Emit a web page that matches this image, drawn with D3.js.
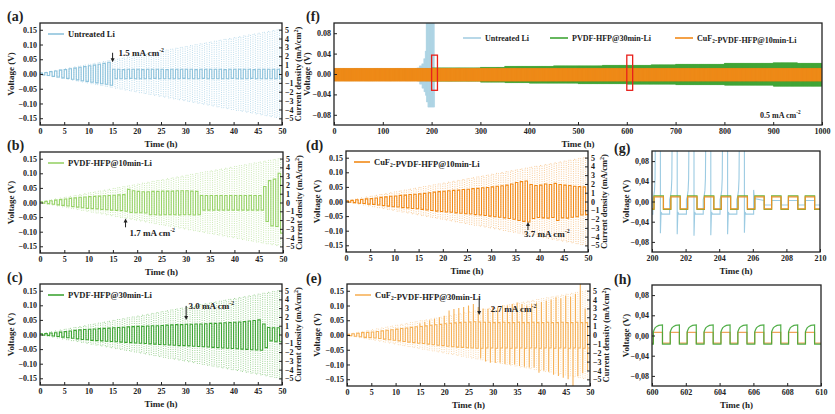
<!DOCTYPE html>
<html><head><meta charset="utf-8">
<script src="https://cdn.jsdelivr.net/npm/d3@7"></script>
<style>
body{margin:0;background:#fff}
svg{display:block}
text{font-family:"Liberation Serif","Times New Roman",serif;font-weight:bold;fill:#222}
</style></head>
<body><svg id="chart" width="835" height="414"></svg>
<script>
// ---------------- DATA ----------------
// current density per 1 h cycle (mA/cm2), panels (a)-(e)
const currentDensity = [0.1,0.2,0.3,0.4,0.5,0.6,0.7,0.8,0.9,1.0,1.1,1.2,1.3,1.4,1.5,1.6,1.7,1.8,1.9,2.0,
  2.1,2.2,2.3,2.4,2.5,2.6,2.7,2.8,2.9,3.0,3.1,3.2,3.3,3.4,3.5,3.6,3.7,3.8,3.9,4.0,
  4.1,4.2,4.3,4.4,4.5,4.6,4.7,4.8,4.9,5.0];
const timeTicks50 = [0,5,10,15,20,25,30,35,40,45,50];
const voltTicks = [-0.15,-0.10,-0.05,0,0.05,0.10,0.15];
const currTicks = [-5,-4,-3,-2,-1,0,1,2,3,4,5];

// (a) Untreated Li : plateau voltage per cycle
const aHi = [0.003,0.005,0.008,0.010,0.013,0.015,0.018,0.020,0.023,0.025,0.028,0.030,0.033,0.036,0.040,
  0.016,0.016,0.015,0.016,0.016, 0.016,0.015,0.016,0.016,0.016, 0.016,0.015,0.016,0.016,0.016,
  0.016,0.016,0.015,0.016,0.016, 0.016,0.016,0.016,0.015,0.016, 0.016,0.016,0.016,0.016,0.015,
  0.016,0.016,0.016,0.016,0.016];
const aLo = [-0.003,-0.005,-0.008,-0.010,-0.013,-0.015,-0.018,-0.020,-0.023,-0.025,-0.028,-0.030,-0.033,-0.035,-0.038,
  -0.016,-0.016,-0.016,-0.015,-0.016, -0.016,-0.016,-0.016,-0.015,-0.016, -0.016,-0.016,-0.016,-0.016,-0.015,
  -0.016,-0.016,-0.016,-0.015,-0.016, -0.016,-0.016,-0.016,-0.016,-0.015, -0.016,-0.016,-0.016,-0.015,-0.016,
  -0.016,-0.016,-0.016,-0.016,-0.016];
// (b) PVDF-HFP@10min-Li
const bHi = [0.002,0.004,0.006,0.008,0.010,0.012,0.014,0.016,0.018,0.019,0.020,0.021,0.022,0.023,0.024,0.025,0.026,0.027,
  0.045,0.040,0.038,0.037,0.037,0.038,0.038,0.039,0.039,0.039,0.040,0.040,0.040,0.039,0.038,
  0.024,0.024,0.024,0.024,0.024,0.024,0.024,0.024,0.024,0.024,0.024,0.024,0.024,
  0.055,0.075,0.080,0.100];
const bLo = [-0.002,-0.004,-0.006,-0.008,-0.010,-0.012,-0.014,-0.016,-0.018,-0.020,-0.021,-0.022,-0.024,-0.025,-0.026,-0.027,-0.028,-0.030,
  -0.034,-0.035,-0.035,-0.036,
  -0.042,-0.042,-0.043,-0.042,-0.042,-0.042,-0.043,-0.042,-0.042,-0.043,-0.042,
  -0.026,-0.026,-0.026,-0.026,-0.026,-0.026,-0.026,-0.026,-0.026,-0.026,-0.026,-0.026,-0.026,
  -0.065,-0.080,-0.082,-0.105];
// (c) PVDF-HFP@30min-Li
const cHi = [0.002,0.003,0.005,0.006,0.008,0.010,0.012,0.014,0.016,0.017,0.018,0.019,0.020,0.021,0.022,0.023,0.024,0.025,0.026,0.027,
  0.028,0.028,0.029,0.030,0.030,0.031,0.032,0.033,0.034,0.034,0.035,0.035,0.036,0.036,0.037,0.038,0.038,0.039,0.040,0.041,
  0.042,0.043,0.044,0.046,0.048,0.050,0.036,0.024,0.023,0.023];
const cLo = [-0.002,-0.003,-0.005,-0.007,-0.009,-0.011,-0.013,-0.015,-0.017,-0.018,-0.020,-0.021,-0.022,-0.023,-0.024,-0.025,-0.026,-0.027,-0.028,-0.029,
  -0.030,-0.031,-0.032,-0.033,-0.034,-0.035,-0.036,-0.037,-0.038,-0.038,-0.039,-0.040,-0.041,-0.042,-0.043,-0.044,-0.045,-0.046,-0.047,-0.048,
  -0.049,-0.050,-0.051,-0.052,-0.053,-0.054,-0.045,-0.022,-0.025,-0.025];
// (d) CuF2-PVDF-HFP@10min-Li
const dHi = [0.002,0.004,0.006,0.007,0.009,0.010,0.012,0.014,0.016,0.018,0.019,0.021,0.022,0.024,0.025,0.026,0.028,0.030,0.032,0.034,
  0.035,0.037,0.038,0.039,0.041,0.042,0.044,0.045,0.047,0.048,0.050,0.052,0.054,0.056,0.060,0.065,0.068,0.070,0.058,0.055,
  0.056,0.060,0.058,0.062,0.058,0.056,0.055,0.052,0.051,0.050];
const dLo = [-0.002,-0.004,-0.006,-0.007,-0.009,-0.010,-0.012,-0.014,-0.016,-0.018,-0.019,-0.021,-0.022,-0.024,-0.025,-0.027,-0.029,-0.031,-0.033,-0.034,
  -0.036,-0.037,-0.039,-0.040,-0.042,-0.043,-0.045,-0.046,-0.048,-0.050,-0.052,-0.054,-0.056,-0.058,-0.061,-0.065,-0.068,-0.070,-0.058,-0.055,
  -0.056,-0.057,-0.055,-0.065,-0.056,-0.057,-0.054,-0.052,-0.046,-0.045];
// (e) CuF2-PVDF-HFP@30min-Li : plateaus and spike tips
const eHi = [0.002,0.004,0.006,0.008,0.009,0.010,0.012,0.014,0.016,0.018,0.020,0.022,0.024,0.026,0.028,0.029,0.031,0.033,0.035,0.036,
  0.038,0.040,0.041,0.042,0.043,0.044,0.045,0.044,0.043,0.043,0.042,0.042,0.043,0.042,0.042,0.043,0.042,0.042,0.043,0.042,
  0.042,0.043,0.042,0.042,0.043,0.042,0.042,0.043,0.042,0.042];
const eHiSpike = [0.002,0.004,0.006,0.008,0.009,0.010,0.012,0.014,0.016,0.018,0.020,0.022,0.024,0.026,0.028,0.040,0.045,0.050,0.055,0.060,
  0.065,0.083,0.088,0.092,0.095,0.100,0.105,0.095,0.090,0.089,0.095,0.094,0.100,0.100,0.105,0.110,0.105,0.100,0.105,0.110,
  0.112,0.117,0.120,0.128,0.125,0.133,0.130,0.140,0.180,0.090];
const eLo = [-0.002,-0.004,-0.006,-0.008,-0.009,-0.010,-0.012,-0.014,-0.016,-0.018,-0.020,-0.022,-0.024,-0.026,-0.028,-0.029,-0.031,-0.033,-0.035,-0.036,
  -0.038,-0.040,-0.041,-0.042,-0.043,-0.044,-0.045,-0.045,-0.044,-0.044,-0.045,-0.044,-0.044,-0.045,-0.044,-0.044,-0.045,-0.044,-0.044,-0.045,
  -0.044,-0.044,-0.045,-0.044,-0.044,-0.045,-0.044,-0.044,-0.045,-0.044];
const eLoSpike = [-0.002,-0.004,-0.006,-0.008,-0.009,-0.010,-0.012,-0.014,-0.016,-0.018,-0.020,-0.022,-0.024,-0.026,-0.028,-0.029,-0.031,-0.033,-0.035,-0.036,
  -0.038,-0.040,-0.041,-0.042,-0.043,-0.044,-0.045,-0.080,-0.090,-0.094,-0.095,-0.094,-0.098,-0.100,-0.100,-0.105,-0.108,-0.110,-0.110,-0.128,
  -0.120,-0.125,-0.135,-0.139,-0.145,-0.150,-0.175,-0.140,-0.130,-0.120];

// (f) long-term cycling at 0.5 mA cm-2, plateau values per 50 h block
const fTimeTicks = [0,100,200,300,400,500,600,700,800,900,1000];
const fVoltTicks = [-0.08,-0.04,0,0.04,0.08];
const fBlockHours = 50;
const fOrangeHi = [0.011,0.011,0.011,0.011,0.011,0.011,0.011,0.011,0.011,0.011,0.011,0.011,0.011,0.011,0.011,0.011,0.011,0.011,0.011,0.011];
const fOrangeLo = [-0.014,-0.014,-0.014,-0.014,-0.014,-0.014,-0.014,-0.014,-0.014,-0.014,-0.014,-0.014,-0.014,-0.014,-0.014,-0.014,-0.014,-0.014,-0.014,-0.014];
const fGreenHi = [0.010,0.010,0.010,0.010,0.012,0.012,0.013,0.015,0.015,0.016,0.016,0.017,0.017,0.018,0.019,0.019,0.021,0.021,0.022,0.021];
const fGreenLo = [-0.013,-0.013,-0.013,-0.013,-0.014,-0.014,-0.016,-0.017,-0.018,-0.018,-0.019,-0.019,-0.020,-0.020,-0.021,-0.021,-0.022,-0.022,-0.024,-0.024];
const fBlueStart = [0,170,175,180,184,187,189,192,206];
const fBlueHi = [0.008,0.012,0.016,0.020,0.030,0.045,0.130,0.130,0.003];
const fBlueLo = [-0.010,-0.014,-0.020,-0.028,-0.035,-0.042,-0.055,-0.065,-0.007];
const fBlueEnd = 210;
const fBoxes = [[200,212],[600,612]];
const fBoxV = [-0.032,0.037];

// (g) 200-210 h detail
const gTimeTicks = [200,202,204,206,208,210];
const gPhase = [0.12,0.68];           // rise / fall offset within each hour
const gOrange = [0.009,-0.0145];
const gGreen = [0.011,-0.0155];
const gBlueFailRise = 0.05, gBlueFailFall = 0.5;
const gBlueFailHiShape = [[0,0.004],[0.05,0.010],[0.10,0.022],[0.13,0.045],[0.15,0.130],[0.45,0.130]];
const gBlueLoPlateau = -0.025;
const gBlueLoSpike = [-0.060,-0.063,-0.065,-0.068,-0.067,-0.065,-0.062];   // cycles 199..205
const gBluePost = [0.002,-0.007], gBluePostSpike = 0.023;

// (h) 600-610 h detail
const hTimeTicks = [600,602,604,606,608,610];
const hPhase = [0.08,0.62];
const hOrange = [0.006,-0.015];
const hGreenHiShape = [[0,0.007],[0.04,0.011],[0.10,0.015],[0.20,0.018],[0.32,0.020],[0.54,0.021]];
const hGreenLo = -0.017;

// ---------------- DRAW ----------------
const svg = d3.select('#chart');
const defs = svg.append('defs');
let clipN = 0;

function styleAxis(a) {
  a.select('.domain').remove();
  a.selectAll('line').attr('stroke', '#222');
  a.selectAll('text').attr('font-size', 8).style('font-weight', 'bold');
}
function panel(L, xd, yd, xt, yt, yfmt, xfmt) {
  const x = d3.scaleLinear().domain(xd).range([L.x0, L.x1]);
  const y = d3.scaleLinear().domain(yd).range([L.y1, L.y0]);
  const cid = 'clip' + (clipN++);
  defs.append('clipPath').attr('id', cid).append('rect')
    .attr('x', L.x0).attr('y', L.y0).attr('width', L.x1 - L.x0).attr('height', L.y1 - L.y0);
  const plot = svg.append('g').attr('clip-path', `url(#${cid})`);
  const ax = svg.append('g');
  const bx = ax.append('g').attr('transform', `translate(0,${L.y1})`)
    .call(d3.axisBottom(x).tickValues(xt).tickSizeInner(-3).tickSizeOuter(0).tickPadding(3).tickFormat(xfmt || d3.format('d')));
  const ly = ax.append('g').attr('transform', `translate(${L.x0},0)`)
    .call(d3.axisLeft(y).tickValues(yt).tickSizeInner(-3).tickSizeOuter(0).tickPadding(3).tickFormat(yfmt));
  styleAxis(bx); styleAxis(ly);
  return {x, y, plot, ax, L};
}
function frame(P) {
  const L = P.L;
  svg.append('rect').attr('x', L.x0).attr('y', L.y0).attr('width', L.x1 - L.x0).attr('height', L.y1 - L.y0)
    .attr('fill', 'none').attr('stroke', '#222').attr('stroke-width', 1.3);
}
function titles(P, yTitleX) {
  const L = P.L;
  svg.append('text').attr('x', (L.x0 + L.x1) / 2).attr('y', L.y1 + 22).attr('text-anchor', 'middle').attr('font-size', 9).text('Time (h)');
  svg.append('text').attr('transform', `translate(${yTitleX},${(L.y0 + L.y1) / 2}) rotate(-90)`).attr('text-anchor', 'middle').attr('font-size', 9).text('Voltage (V)');
}
function rightAxis(P) {
  const L = P.L;
  const yr = d3.scaleLinear().domain([-5.75, 5.75]).range([L.y1, L.y0]);
  const a = svg.append('g').attr('transform', `translate(${L.x1},0)`)
    .call(d3.axisRight(yr).tickValues(currTicks).tickSizeInner(-3).tickSizeOuter(0).tickPadding(3).tickFormat(d3.format('d')));
  styleAxis(a);
  const t = svg.append('text').attr('transform', `translate(${L.x1 + 19},${(L.y0 + L.y1) / 2}) rotate(-90)`)
    .attr('text-anchor', 'middle').attr('font-size', 8.5);
  t.append('tspan').text('Current density (mA/cm');
  t.append('tspan').attr('font-size', 6).attr('dy', -3).text('2');
  t.append('tspan').attr('dy', 3).text(')');
  return yr;
}
function labelText(x, y, parts, size) {
  const t = svg.append('text').attr('x', x).attr('y', y).attr('font-size', size);
  parts.forEach(p => {
    if (typeof p === 'string') t.append('tspan').text(p);
    else if (p.sub) { t.append('tspan').attr('font-size', size * 0.65).attr('dy', 2).text(p.sub); t.append('tspan').attr('dy', -2).text(''); }
    else if (p.sup) { t.append('tspan').attr('font-size', size * 0.65).attr('dy', -4).text(p.sup); t.append('tspan').attr('dy', 4).text(''); }
  });
  return t;
}
const line = (P) => d3.line().x(d => P.x(d[0])).y(d => P.y(d[1]));

function wave(hi, lo, hiS, loS) {
  const pts = [[0, 0]];
  hi.forEach((h, k) => {
    const sh = hiS ? hiS[k] : h, sl = loS ? loS[k] : lo[k];
    pts.push([k, sh], [k + 0.02, h], [k + 0.5, h], [k + 0.5, sl], [k + 0.52, lo[k]], [k + 1, lo[k]]);
  });
  return pts;
}
function currentWave() {
  const pts = [[0, 0]];
  currentDensity.forEach((i, k) => pts.push([k, i], [k + 0.5, i], [k + 0.5, -i], [k + 1, -i]));
  pts.push([currentDensity.length, 0]);
  return pts;
}
function arrow(P, xv, y1, y2) {
  const X = P.x(xv), Y1 = P.y(y1), Y2 = P.y(y2);
  const dir = Y2 > Y1 ? 1 : -1;
  svg.append('line').attr('x1', X).attr('x2', X).attr('y1', Y1).attr('y2', Y2 - dir * 3).attr('stroke', '#222').attr('stroke-width', 1);
  svg.append('path').attr('d', `M${X - 2},${Y2 - dir * 4}L${X + 2},${Y2 - dir * 4}L${X},${Y2}Z`).attr('fill', '#222');
}

const rateLayouts = [
  {key: 'a', L: {x0: 40, x1: 282, y0: 23, y1: 125}, hi: aHi, lo: aLo, col: '#8ec3dc', dot: '#9fcde4', name: ['Untreated Li'],
   lab: [7, 21], ytx: 14, ann: {ax: 15, a1: 0.072, a2: 0.040, tx: 16.2, ty: 0.060, t: '1.5'}},
  {key: 'b', L: {x0: 40, x1: 283, y0: 152, y1: 253}, hi: bHi, lo: bLo, col: '#99d36a', dot: '#b3df92', name: ['PVDF-HFP@10min-Li'],
   lab: [7, 150], ytx: 14, ann: {ax: 17.6, a1: -0.085, a2: -0.055, tx: 18.4, ty: -0.115, t: '1.7'}},
  {key: 'c', L: {x0: 40, x1: 282, y0: 284, y1: 385}, hi: cHi, lo: cLo, col: '#3fa535', dot: '#74c069', name: ['PVDF-HFP@30min-Li'],
   lab: [7, 282], ytx: 14, ann: {ax: 30.2, a1: 0.098, a2: 0.050, tx: 30.7, ty: 0.086, t: '3.0'}},
  {key: 'd', L: {x0: 346, x1: 588, y0: 151, y1: 252}, hi: dHi, lo: dLo, col: '#f28a18', dot: '#f5b46b', name: ['CuF', {sub: '2'}, '-PVDF-HFP@10min-Li'],
   lab: [306, 150], ytx: 320, ann: {ax: 37.6, a1: -0.098, a2: -0.070, tx: 36.8, ty: -0.122, t: '3.7'}},
  {key: 'e', L: {x0: 347, x1: 590, y0: 284, y1: 386}, hi: eHi, lo: eLo, hiS: eHiSpike, loS: eLoSpike, col: '#f6b25a', dot: '#f8c88c', name: ['CuF', {sub: '2'}, '-PVDF-HFP@30min-Li'],
   lab: [306, 283], ytx: 320, ann: {ax: 27.2, a1: 0.124, a2: 0.068, tx: 29.6, ty: 0.078, t: '2.7'}}
];

rateLayouts.forEach(R => {
  const P = panel(R.L, [0, 50], [-0.173, 0.173], timeTicks50, voltTicks, d3.format('.2f'));
  const yr = d3.scaleLinear().domain([-5.75, 5.75]).range([R.L.y1, R.L.y0]);
  P.plot.append('path').attr('d', d3.line().x(d => P.x(d[0])).y(d => yr(d[1]))(currentWave()))
    .attr('fill', 'none').attr('stroke', R.dot).attr('stroke-width', 0.7).attr('stroke-dasharray', '1,1.2');
  P.plot.append('path').attr('d', line(P)(wave(R.hi, R.lo, R.hiS, R.loS)))
    .attr('fill', 'none').attr('stroke', R.col).attr('stroke-width', 1.1);
  frame(P);
  rightAxis(P);
  titles(P, R.ytx);
  const lx = R.L.x0 + 8, ly = R.L.y0 + 11;
  svg.append('line').attr('x1', lx).attr('x2', lx + 16).attr('y1', ly).attr('y2', ly).attr('stroke', R.col).attr('stroke-width', 1.6);
  labelText(lx + 20, ly + 3, R.name, 8.5);
  const A = R.ann;
  arrow(P, A.ax, A.a1, A.a2);
  labelText(P.x(A.tx), P.y(A.ty), [A.t + ' mA cm', {sup: '-2'}], 9);
  svg.append('text').attr('x', R.lab[0]).attr('y', R.lab[1]).attr('font-size', 14).text('(' + R.key + ')');
});

// ---------- (f) ----------
{
  const L = {x0: 334, x1: 822, y0: 23, y1: 125};
  const P = panel(L, [0, 1000], [-0.1, 0.1], fTimeTicks, fVoltTicks, d3.format('.2f'));
  const blockWave = (HI, LO) => {
    const pts = [];
    for (let k = 0; k < HI.length * fBlockHours; k++) {
      const b = Math.floor(k / fBlockHours);
      pts.push([k, HI[b]], [k + 0.5, HI[b]], [k + 0.5, LO[b]], [k + 1, LO[b]]);
    }
    return pts;
  };
  const blueWave = () => {
    const pts = [];
    for (let k = 0; k < fBlueEnd; k++) {
      let s = 0; fBlueStart.forEach((t, i) => { if (k >= t) s = i; });
      pts.push([k, fBlueHi[s]], [k + 0.5, fBlueHi[s]], [k + 0.5, fBlueLo[s]], [k + 1, fBlueLo[s]]);
    }
    return pts;
  };
  P.plot.append('path').attr('d', line(P)(blueWave())).attr('fill', 'none').attr('stroke', '#a6cfe3').attr('stroke-width', 0.6).attr('opacity', 0.75);
  P.plot.append('path').attr('d', line(P)(blockWave(fGreenHi, fGreenLo))).attr('fill', 'none').attr('stroke', '#3fa535').attr('stroke-width', 0.7);
  P.plot.append('path').attr('d', line(P)(blockWave(fOrangeHi, fOrangeLo))).attr('fill', 'none').attr('stroke', '#f28a18').attr('stroke-width', 0.7);
  fBoxes.forEach(b => {
    svg.append('rect').attr('x', P.x(b[0])).attr('y', P.y(fBoxV[1])).attr('width', P.x(b[1]) - P.x(b[0]))
      .attr('height', P.y(fBoxV[0]) - P.y(fBoxV[1])).attr('fill', 'none').attr('stroke', '#e8201c').attr('stroke-width', 1.3);
  });
  frame(P);
  titles(P, 310);
  const leg = [{c: '#a6cfe3', x: 463, n: ['Untreated Li']}, {c: '#3fa535', x: 550, n: ['PVDF-HFP@30min-Li']},
               {c: '#f28a18', x: 675, n: ['CuF', {sub: '2'}, '-PVDF-HFP@10min-Li']}];
  leg.forEach(l => {
    svg.append('line').attr('x1', l.x).attr('x2', l.x + 18).attr('y1', 38).attr('y2', 38).attr('stroke', l.c).attr('stroke-width', 1.6);
    labelText(l.x + 22, 41, l.n, 8);
  });
  labelText(760, 118, ['0.5 mA cm', {sup: '-2'}], 8);
  svg.append('text').attr('x', 306).attr('y', 21).attr('font-size', 14).text('(f)');
}

// ---------- (g) ----------
const commaFmt = d => d3.format('.2f')(d).replace('.', ',');
{
  const L = {x0: 652, x1: 820, y0: 151, y1: 252};
  const P = panel(L, [200, 210], [-0.1, 0.1], gTimeTicks, fVoltTicks, commaFmt);
  const sq = (hi, lo, ph, k0, k1) => {
    const pts = [];
    for (let k = k0; k <= k1; k++) pts.push([k + ph[0], lo], [k + ph[0], hi], [k + ph[1], hi], [k + ph[1], lo]);
    return pts;
  };
  const bp = [];
  gBlueLoSpike.forEach((sp, i) => {
    const k = 199 + i, r = k + gBlueFailRise, f = k + gBlueFailFall;
    gBlueFailHiShape.forEach(s => bp.push([r + s[0], s[1]]));
    bp.push([f, sp], [f + 0.04, gBlueLoPlateau + 0.004], [f + 0.1, gBlueLoPlateau], [k + 1 + gBlueFailRise, gBlueLoPlateau]);
  });
  const postStart = 199 + gBlueLoSpike.length + gBlueFailRise;
  bp.push([postStart, gBluePostSpike], [postStart + 0.04, gBluePost[0] + 0.004], [206 + gPhase[1], gBluePost[0]], [206 + gPhase[1], gBluePost[1]]);
  for (let k = 207; k <= 210; k++) bp.push([k + gPhase[0], gBluePost[1]], [k + gPhase[0], gBluePost[0]], [k + gPhase[1], gBluePost[0]], [k + gPhase[1], gBluePost[1]]);
  P.plot.append('path').attr('d', line(P)(bp)).attr('fill', 'none').attr('stroke', '#9ccbe2').attr('stroke-width', 1.1);
  P.plot.append('path').attr('d', line(P)(sq(gGreen[0], gGreen[1], gPhase, 199, 210))).attr('fill', 'none').attr('stroke', '#6cb33a').attr('stroke-width', 1.2);
  P.plot.append('path').attr('d', line(P)(sq(gOrange[0], gOrange[1], gPhase, 199, 210))).attr('fill', 'none').attr('stroke', '#e8922a').attr('stroke-width', 1.2);
  frame(P);
  titles(P, 629);
  svg.append('text').attr('x', 614).attr('y', 153).attr('font-size', 14).text('(g)');
}
// ---------- (h) ----------
{
  const L = {x0: 652, x1: 821, y0: 285, y1: 386};
  const P = panel(L, [600, 610], [-0.1, 0.1], hTimeTicks, fVoltTicks, commaFmt);
  const op = [], gp = [];
  for (let k = 599; k <= 610; k++) {
    op.push([k + hPhase[0], hOrange[1]], [k + hPhase[0], hOrange[0]], [k + hPhase[1], hOrange[0]], [k + hPhase[1], hOrange[1]]);
    gp.push([k + hPhase[0], hGreenLo]);
    hGreenHiShape.forEach(s => gp.push([k + hPhase[0] + s[0], s[1]]));
    gp.push([k + hPhase[1], hGreenLo]);
  }
  P.plot.append('path').attr('d', line(P)(op)).attr('fill', 'none').attr('stroke', '#f0a45a').attr('stroke-width', 1.2);
  P.plot.append('path').attr('d', line(P)(gp)).attr('fill', 'none').attr('stroke', '#3fa535').attr('stroke-width', 1.2).attr('opacity', 0.9);
  frame(P);
  titles(P, 629);
  svg.append('text').attr('x', 614).attr('y', 284).attr('font-size', 14).text('(h)');
}
</script></body></html>
